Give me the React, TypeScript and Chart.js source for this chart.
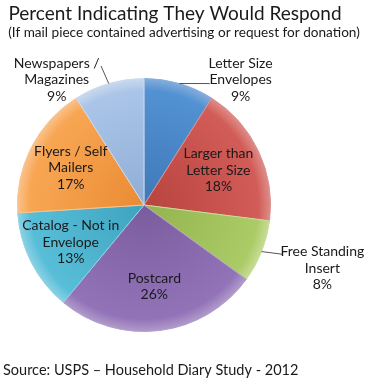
import React, { useEffect, useRef } from "react";
import { Chart, registerables } from "chart.js";

Chart.register(...registerables);

const categories = [
  "Letter Size Envelopes",
  "Larger than Letter Size",
  "Free Standing Insert",
  "Postcard",
  "Catalog - Not in Envelope",
  "Flyers / Self Mailers",
  "Newspapers / Magazines",
];
const labelLines = [
  ["Letter Size", "Envelopes"],
  ["Larger than", "Letter Size"],
  ["Free Standing", "Insert"],
  ["Postcard"],
  ["Catalog - Not in", "Envelope"],
  ["Flyers / Self", "Mailers"],
  ["Newspapers /", "Magazines"],
];
const values = [9, 18, 8, 26, 13, 17, 9];
const innerColors = ["#3F78B8", "#B8443F", "#92B34E", "#7A5C9E", "#3EA3BF", "#EA8B33", "#90ADD5"];
const outerColors = ["#5291D2", "#D25C57", "#ABCB66", "#9373B8", "#58BED8", "#F8A653", "#AAC5E8"];
const borders = ["#86AEDC", "#DE8F8B", "#C8DD97", "#B19DCB", "#8ED2E4", "#FAC38D", "#CBDAEE"];

const TITLE = "Percent Indicating They Would Respond";
const SUBTITLE = "(If mail piece contained advertising or request for donation)";
const SOURCE = "Source: USPS \u2013 Household Diary Study - 2012";

// label placement: inside labels along mid-angle; outside labels offset in radius units
const outside: Record<number, { dx: number; dy: number; lx: number; ly: number }> = {
  0: { dx: 0.764, dy: -0.99, lx: 0.52, ly: -0.96 },
  2: { dx: 1.41, dy: 0.5, lx: 1.1, ly: 0.39 },
  6: { dx: -0.69, dy: -0.99, lx: -0.34, ly: -1.1 },
};

const FONT = "Lato, 'Open Sans', sans-serif";

const labelPlugin = {
  id: "labels",
  afterDraw(chart: any) {
    const ctx = chart.ctx as CanvasRenderingContext2D;
    const meta = chart.getDatasetMeta(0);
    ctx.save();
    ctx.textAlign = "center";
    ctx.textBaseline = "middle";
    ctx.fillStyle = "#1a1a1a";
    ctx.font = `19px ${FONT}`;
    ctx.fillText(TITLE, 175, 14);
    ctx.font = `13.6px ${FONT}`;
    ctx.fillText(SUBTITLE, 184, 33);
    ctx.textAlign = "left";
    ctx.font = `14.5px ${FONT}`;
    ctx.fillText(SOURCE, 3, 370);
    ctx.textAlign = "center";

    const lh = 16.5;
    meta.data.forEach((arc: any, i: number) => {
      const p = arc.getProps(["x", "y", "startAngle", "endAngle", "outerRadius"], true);
      const mid = (p.startAngle + p.endAngle) / 2;
      const r = p.outerRadius;
      const lines = [...labelLines[i], `${values[i]}%`];
      let cx: number, cy: number;
      if (outside[i]) {
        const o = outside[i];
        cx = p.x + o.dx * r;
        cy = p.y + o.dy * r;
        const ex = p.x + Math.cos(mid) * r;
        const ey = p.y + Math.sin(mid) * r;
        ctx.strokeStyle = "#555";
        ctx.lineWidth = 1;
        ctx.beginPath();
        ctx.moveTo(ex, ey);
        ctx.lineTo(p.x + o.lx * r, p.y + o.ly * r);
        ctx.stroke();
      } else {
        const f = 0.65;
        cx = p.x + Math.cos(mid) * r * f;
        cy = p.y + Math.sin(mid) * r * f;
      }
      ctx.fillStyle = "#1a1a1a";
      ctx.font = `14px ${FONT}`;
      const top = cy - ((lines.length - 1) * lh) / 2;
      lines.forEach((t, k) => ctx.fillText(t, cx, top + k * lh));
    });
    ctx.restore();
  },
};

export default function App() {
  const ref = useRef<HTMLCanvasElement>(null);
  useEffect(() => {
    document.body.style.margin = "0";
    const chart = new Chart(ref.current!, {
      type: "pie",
      data: {
        labels: categories,
        datasets: [
          {
            data: values,
            backgroundColor: (c: any) => {
              const area = c.chart.chartArea;
              if (!area) return innerColors[c.dataIndex];
              const cx = (area.left + area.right) / 2;
              const cy = (area.top + area.bottom) / 2;
              const r = Math.min(area.right - area.left, area.bottom - area.top) / 2;
              const g = c.chart.ctx.createRadialGradient(cx, cy, 0, cx, cy, r);
              g.addColorStop(0, innerColors[c.dataIndex]);
              g.addColorStop(0.9, outerColors[c.dataIndex]);
              g.addColorStop(1, borders[c.dataIndex]);
              return g;
            },
            borderColor: borders,
            borderWidth: 1,
          },
        ],
      },
      options: {
        animation: false,
        responsive: false,
        layout: { padding: { left: 17, right: 102, top: 78, bottom: 56 } },
        plugins: { legend: { display: false }, tooltip: { enabled: false } },
      },
      plugins: [labelPlugin],
    });
    return () => chart.destroy();
  }, []);
  return <canvas ref={ref} width={373} height={388} style={{ display: "block", background: "#fff" }} />;
}
